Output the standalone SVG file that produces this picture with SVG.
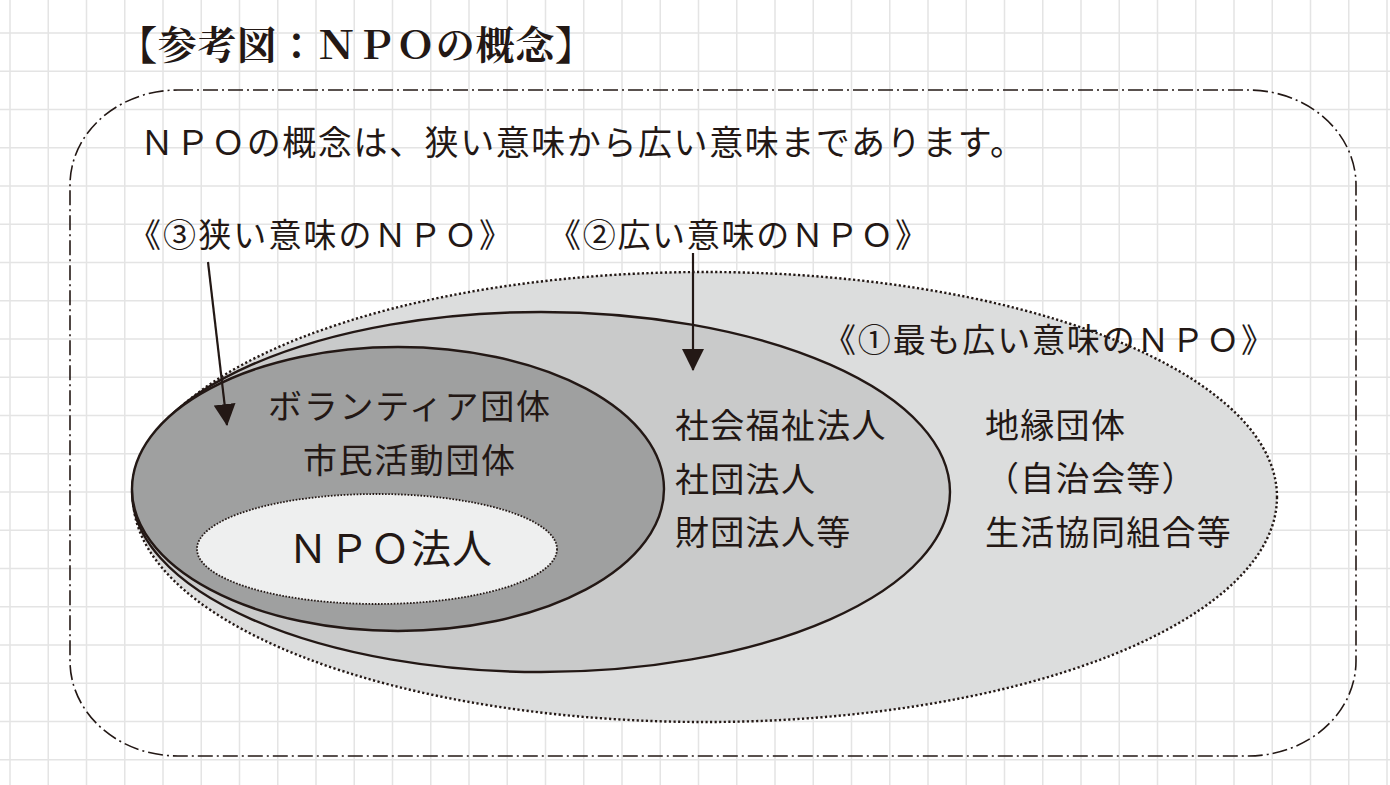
<svg xmlns="http://www.w3.org/2000/svg" width="1390" height="785" viewBox="0 0 1390 785">
<style>
.grid{stroke:#e4e4e4;stroke-width:1.5;fill:none}
.frame{fill:none;stroke:#231815;stroke-width:1.6;stroke-dasharray:15 4 2 4}
.solid{stroke:#231815;stroke-width:2.4}
.dot1{stroke:#231815;stroke-width:2.4;stroke-dasharray:2.2 2.4}
.dot2{stroke:#231815;stroke-width:1.8;stroke-dasharray:1.6 1.6}
.t{font-family:"Noto Sans CJK JP","Noto Sans",sans-serif;fill:#231815}
.c{letter-spacing:1.3px}
.title{font-family:"Noto Serif CJK JP","Noto Sans CJK JP",serif;font-weight:bold;fill:#231815}
.arrow{stroke:#231815;stroke-width:2.2;fill:none}
</style>
<defs>
<marker id="ah" markerUnits="userSpaceOnUse" markerWidth="22" markerHeight="22" viewBox="0 0 20 20" refX="19" refY="10" orient="auto">
<path d="M0,0 L20,10 L0,20 Z" fill="#231815"/>
</marker>
</defs>
<rect width="1390" height="785" fill="#ffffff"/>
<path class="grid" d="M10 0V785M48.25 0V785M86.5 0V785M124.75 0V785M163 0V785M201.25 0V785M239.5 0V785M277.75 0V785M316 0V785M354.25 0V785M392.5 0V785M430.75 0V785M469 0V785M507.25 0V785M545.5 0V785M583.75 0V785M622 0V785M660.25 0V785M698.5 0V785M736.75 0V785M775 0V785M813.25 0V785M851.5 0V785M889.75 0V785M928 0V785M966.25 0V785M1004.5 0V785M1042.75 0V785M1081 0V785M1119.25 0V785M1157.5 0V785M1195.75 0V785M1234 0V785M1272.25 0V785M1310.5 0V785M1348.75 0V785M1387 0V785M0 33H1390M0 71.25H1390M0 109.5H1390M0 147.75H1390M0 186H1390M0 224.25H1390M0 262.5H1390M0 300.75H1390M0 339H1390M0 377.25H1390M0 415.5H1390M0 453.75H1390M0 492H1390M0 530.25H1390M0 568.5H1390M0 606.75H1390M0 645H1390M0 683.25H1390M0 721.5H1390M0 759.75H1390"/>
<text class="title" x="118" y="59" font-size="39" textLength="476" lengthAdjust="spacing">【参考図：ＮＰＯの概念】</text>
<rect class="frame" x="70" y="90" width="1286" height="666" rx="108" ry="95"/>
<text class="t" x="140" y="155" font-size="34" textLength="884" lengthAdjust="spacing">ＮＰＯの概念は、狭い意味から広い意味まであります。</text>
<g id="npo1">
<ellipse cx="705" cy="497" rx="572" ry="225" fill="#dcdddd" class="dot1"/>
</g>
<g id="npo2">
<ellipse cx="541" cy="492" rx="409" ry="180" fill="#c9caca" class="solid"/>
<text class="t c" x="675" y="438" font-size="34">社会福祉法人</text>
<text class="t c" x="675" y="492" font-size="34">社団法人</text>
<text class="t c" x="675" y="545" font-size="34">財団法人等</text>
</g>
<g id="npo3">
<ellipse cx="398" cy="489" rx="266" ry="142" fill="#9fa0a0" class="solid"/>
<text class="t" x="409" y="419" font-size="34" text-anchor="middle" textLength="282" lengthAdjust="spacing">ボランティア団体</text>
<text class="t" x="409" y="473" font-size="34" text-anchor="middle" textLength="212" lengthAdjust="spacing">市民活動団体</text>
</g>
<g id="npohojin">
<ellipse cx="377" cy="549" rx="180" ry="55" fill="#eeefef" class="dot2"/>
<text class="t" x="390" y="563" font-size="40" text-anchor="middle" textLength="204" lengthAdjust="spacing">ＮＰＯ法人</text>
</g>
<g id="outer-items">
<text class="t c" x="985" y="438" font-size="34">地縁団体</text>
<text class="t c" x="985" y="491" font-size="34">（自治会等）</text>
<text class="t c" x="985" y="545" font-size="34">生活協同組合等</text>
</g>
<g id="connectors">
<line class="arrow" x1="208" y1="262" x2="227" y2="425" marker-end="url(#ah)"/>
<line class="arrow" x1="693" y1="253" x2="693" y2="370" marker-end="url(#ah)"/>
</g>
<g id="labels">
<text class="t" x="128" y="247" font-size="33" textLength="384" lengthAdjust="spacing">《③狭い意味のＮＰＯ》</text>
<text class="t" x="548" y="247" font-size="33" textLength="380" lengthAdjust="spacing">《②広い意味のＮＰＯ》</text>
<text class="t" x="823" y="352" font-size="33" textLength="451" lengthAdjust="spacing">《①最も広い意味のＮＰＯ》</text>
</g>
</svg>
